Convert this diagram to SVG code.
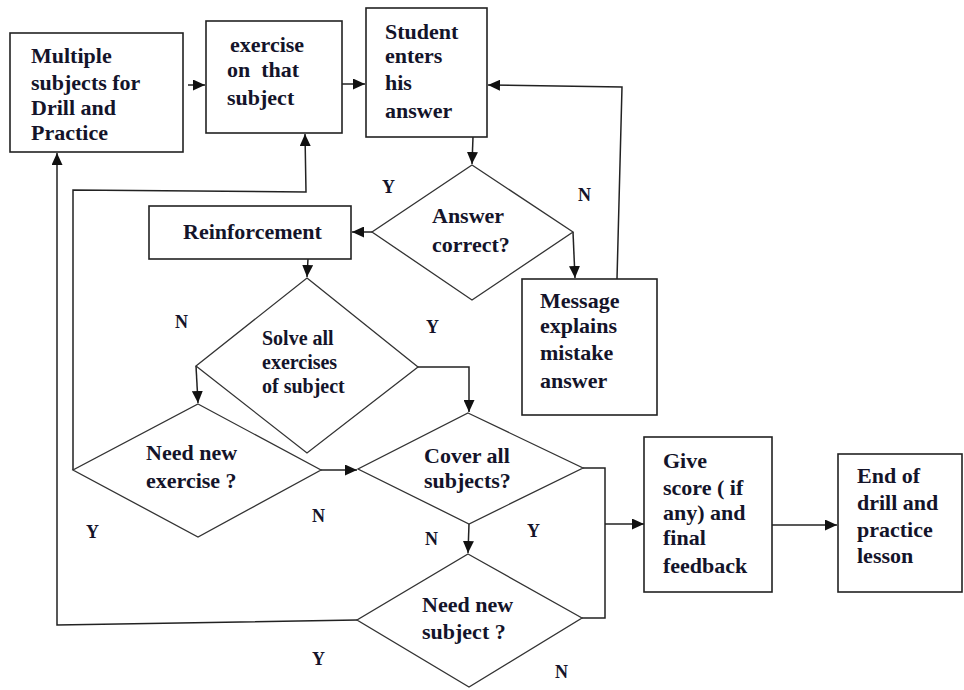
<svg xmlns="http://www.w3.org/2000/svg" width="964" height="690" viewBox="0 0 964 690">
<style>
.box{fill:#fff;stroke:#222;stroke-width:1.6}
.dia{fill:#fff;stroke:#333;stroke-width:1.3}
.t{font-family:'Liberation Serif','Tinos','Times New Roman','DejaVu Serif',serif;font-weight:700;font-size:22px;fill:#14142a}
.s{font-size:20px}
.lb{font-family:'Liberation Serif','Tinos','Times New Roman','DejaVu Serif',serif;font-weight:700;font-size:18px;fill:#14142a}
.c{fill:none;stroke:#222;stroke-width:1.5}
</style>
<defs>
<marker id="ah" markerUnits="userSpaceOnUse" markerWidth="13" markerHeight="11" refX="12" refY="5.5" orient="auto">
<path d="M0,0 L12,5.5 L0,11 z" fill="#111"/>
</marker>
</defs>
<rect width="964" height="690" fill="#fff"/>
<g id="connectors">
<path class="c" d="M188,85 L205,85" marker-end="url(#ah)"/>
<path class="c" d="M342,84 L365,84" marker-end="url(#ah)"/>
<path class="c" d="M473,137 L472,164" marker-end="url(#ah)"/>
<path class="c" d="M573,232 L575,278" marker-end="url(#ah)"/>
<path class="c" d="M617,279 L622,87 L488,85" marker-end="url(#ah)"/>
<path class="c" d="M372,232 L352,232" marker-end="url(#ah)"/>
<path class="c" d="M308,259 L307,277" marker-end="url(#ah)"/>
<path class="c" d="M196,366 L198,403" marker-end="url(#ah)"/>
<path class="c" d="M418,367 L469,367 L469,412" marker-end="url(#ah)"/>
<path class="c" d="M321,470 L357,470" marker-end="url(#ah)"/>
<path class="c" d="M73,470 L73,190 L306,192 L305,134" marker-end="url(#ah)"/>
<path class="c" d="M469,524 L468,553" marker-end="url(#ah)"/>
<path class="c" d="M583,468 L605,468 L605,618 L582,618"/>
<path class="c" d="M605,524 L644,524" marker-end="url(#ah)"/>
<path class="c" d="M357,620 L57,625 L57,153" marker-end="url(#ah)"/>
<path class="c" d="M772,525 L837,525" marker-end="url(#ah)"/>
</g>
<g id="multiple-subjects">
<rect class="box" x="10" y="33" width="173" height="119"/>
<text class="t" x="31" y="63">Multiple</text>
<text class="t" x="31" y="90">subjects for</text>
<text class="t" x="31" y="115">Drill and</text>
<text class="t" x="31" y="140">Practice</text>
</g>
<g id="exercise">
<rect class="box" x="206" y="21" width="136" height="112"/>
<text class="t" x="230" y="52">exercise</text>
<text class="t" x="227" y="77" xml:space="preserve">on  that</text>
<text class="t" x="227" y="105">subject</text>
</g>
<g id="student">
<rect class="box" x="366" y="8" width="121" height="129"/>
<text class="t" x="385" y="39">Student</text>
<text class="t" x="385" y="63">enters</text>
<text class="t" x="385" y="90">his</text>
<text class="t" x="385" y="118">answer</text>
</g>
<g id="answer-correct">
<polygon class="dia" points="472,165 573,232 472,300 372,232"/>
<text class="t" x="432" y="223">Answer</text>
<text class="t" x="432" y="252">correct?</text>
</g>
<g id="message">
<rect class="box" x="522" y="279" width="135" height="136"/>
<text class="t" x="540" y="308">Message</text>
<text class="t" x="540" y="333">explains</text>
<text class="t" x="540" y="360">mistake</text>
<text class="t" x="540" y="388">answer</text>
</g>
<g id="reinforcement">
<rect class="box" x="149" y="206" width="202" height="53"/>
<text class="t" x="183" y="239">Reinforcement</text>
</g>
<g id="solve-all">
<polygon class="dia" points="307,278 418,367 307,453 196,366"/>
<text class="t s" x="262" y="345">Solve all</text>
<text class="t s" x="262" y="369">exercises</text>
<text class="t s" x="262" y="393">of subject</text>
</g>
<g id="need-new-exercise">
<polygon class="dia" points="198,404 321,470 198,537 73,470"/>
<text class="t" x="146" y="460">Need new</text>
<text class="t" x="146" y="488">exercise ?</text>
</g>
<g id="cover-all">
<polygon class="dia" points="468,413 583,468 469,524 358,469"/>
<text class="t" x="424" y="463">Cover all</text>
<text class="t" x="424" y="488">subjects?</text>
</g>
<g id="need-new-subject">
<polygon class="dia" points="468,554 582,618 469,687 357,620"/>
<text class="t" x="422" y="612">Need new</text>
<text class="t" x="422" y="639">subject ?</text>
</g>
<g id="give-score">
<rect class="box" x="644" y="437" width="128" height="155"/>
<text class="t" x="663" y="468">Give</text>
<text class="t" x="663" y="495">score ( if</text>
<text class="t" x="663" y="520">any) and</text>
<text class="t" x="663" y="545">final</text>
<text class="t" x="663" y="573">feedback</text>
</g>
<g id="end">
<rect class="box" x="838" y="454" width="124" height="138"/>
<text class="t" x="857" y="483">End of</text>
<text class="t" x="857" y="510">drill and</text>
<text class="t" x="857" y="537">practice</text>
<text class="t" x="857" y="563">lesson</text>
</g>
<g id="labels">
<text class="lb" x="382" y="193">Y</text>
<text class="lb" x="578" y="201">N</text>
<text class="lb" x="175" y="328">N</text>
<text class="lb" x="426" y="333">Y</text>
<text class="lb" x="86" y="538">Y</text>
<text class="lb" x="312" y="522">N</text>
<text class="lb" x="425" y="545">N</text>
<text class="lb" x="527" y="537">Y</text>
<text class="lb" x="312" y="665">Y</text>
<text class="lb" x="555" y="678">N</text>
</g>
</svg>
